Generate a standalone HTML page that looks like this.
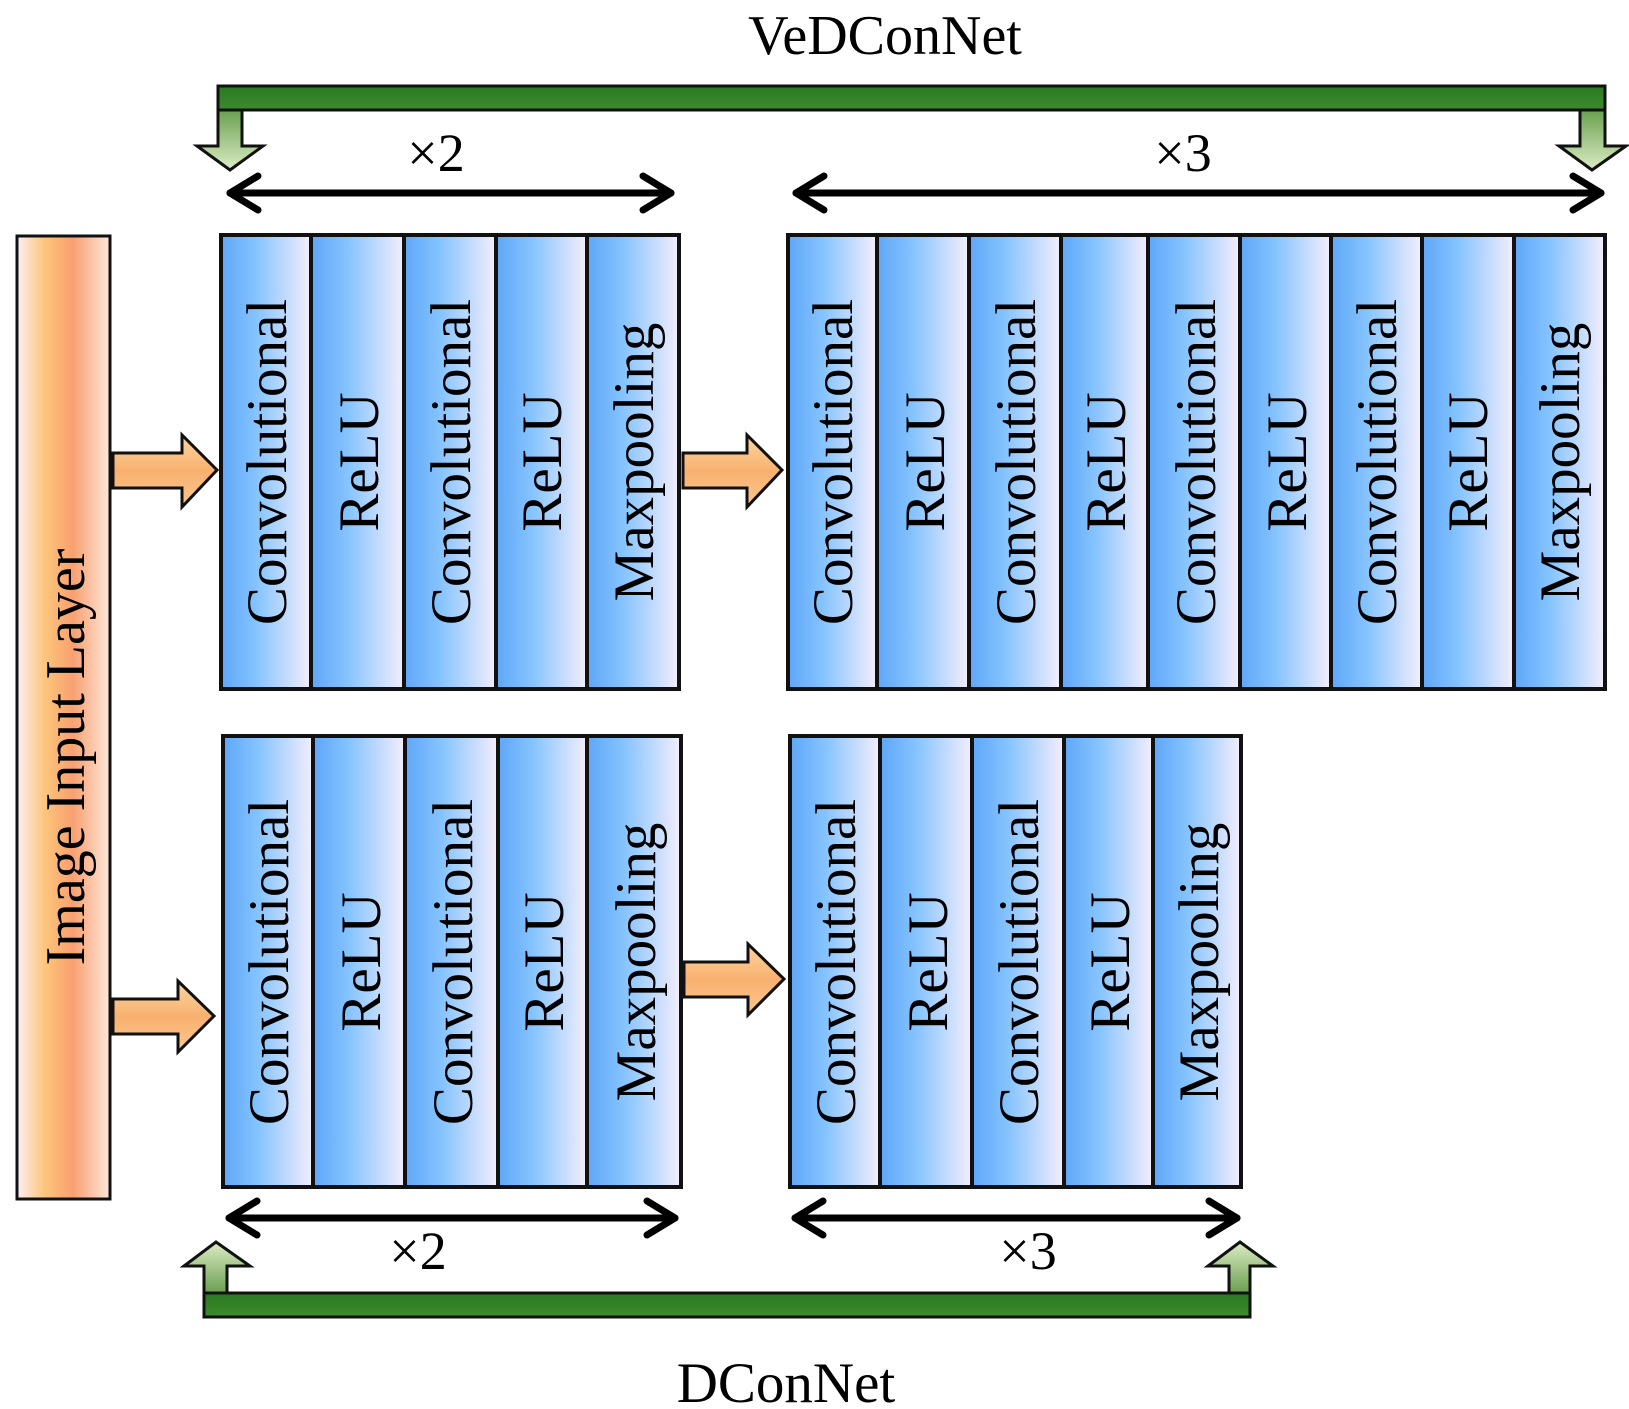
<!DOCTYPE html>
<html><head><meta charset="utf-8"><style>
html,body{margin:0;padding:0;background:#fff;}
svg{display:block;}
text{font-family:"Liberation Serif",serif;fill:#000;}
</style></head><body>
<svg width="1629" height="1409" viewBox="0 0 1629 1409" xmlns="http://www.w3.org/2000/svg">
<defs>
<linearGradient id="blue" x1="0" x2="1" y1="0" y2="0">
<stop offset="0" stop-color="#5ea6f8"/><stop offset="0.4" stop-color="#86c4ff"/><stop offset="1" stop-color="#f4eefc"/></linearGradient>
<linearGradient id="orange" x1="0" x2="1" y1="0" y2="0">
<stop offset="0" stop-color="#fdeef5"/><stop offset="0.3" stop-color="#fcc57a"/><stop offset="0.6" stop-color="#f8a070"/><stop offset="1" stop-color="#fde8dc"/></linearGradient>
<linearGradient id="oarrow" x1="0" x2="0" y1="0" y2="1">
<stop offset="0" stop-color="#fdd7a0"/><stop offset="0.5" stop-color="#f8b070"/><stop offset="1" stop-color="#fbc88c"/></linearGradient>
<linearGradient id="green" x1="0" x2="0" y1="0" y2="1">
<stop offset="0" stop-color="#2a7a22"/><stop offset="1" stop-color="#3e8a2e"/></linearGradient>
<linearGradient id="gdown" x1="0" x2="0" y1="0" y2="1">
<stop offset="0" stop-color="#6aa050"/><stop offset="1" stop-color="#dcecc4"/></linearGradient>
<linearGradient id="gup" x1="0" x2="0" y1="1" y2="0">
<stop offset="0" stop-color="#6aa050"/><stop offset="1" stop-color="#dcecc4"/></linearGradient>
</defs>

<text x="885" y="54" font-size="56" text-anchor="middle">VeDConNet</text>
<text x="786" y="1402" font-size="57" text-anchor="middle">DConNet</text>

<path d="M242,110 L242,146 L263,146 L230,170 L197,146 L218,146 L218,110 Z" fill="url(#gdown)" stroke="#111" stroke-width="3"/>
<path d="M1605,110 L1605,146 L1626,146 L1592,170 L1559,146 L1580,146 L1580,110 Z" fill="url(#gdown)" stroke="#111" stroke-width="3"/>
<rect x="218" y="86" width="1387" height="24" fill="url(#green)" stroke="#111" stroke-width="3"/>

<path d="M227,1293 L227,1266 L250,1266 L216,1242 L184,1266 L204,1266 L204,1293 Z" fill="url(#gup)" stroke="#111" stroke-width="3"/>
<path d="M1250,1293 L1250,1266 L1273,1266 L1240,1242 L1208,1266 L1229,1266 L1229,1293 Z" fill="url(#gup)" stroke="#111" stroke-width="3"/>
<rect x="204" y="1293" width="1046" height="24" fill="url(#green)" stroke="#111" stroke-width="3"/>

<g stroke="#000" stroke-width="7" fill="none" stroke-linecap="round" stroke-linejoin="round">
<line x1="230" y1="193" x2="671" y2="193"/><polyline points="258,176 230,193 258,210"/><polyline points="643,176 671,193 643,210"/>
<line x1="796" y1="193" x2="1601" y2="193"/><polyline points="824,176 796,193 824,210"/><polyline points="1573,176 1601,193 1573,210"/>
<line x1="229" y1="1218" x2="675" y2="1218"/><polyline points="257,1201 229,1218 257,1235"/><polyline points="647,1201 675,1218 647,1235"/>
<line x1="795" y1="1218" x2="1237" y2="1218"/><polyline points="823,1201 795,1218 823,1235"/><polyline points="1209,1201 1237,1218 1209,1235"/>
</g>
<text x="436" y="171" font-size="54" text-anchor="middle">×2</text>
<text x="1183" y="171" font-size="54" text-anchor="middle">×3</text>
<text x="418" y="1269" font-size="54" text-anchor="middle">×2</text>
<text x="1028" y="1269" font-size="54" text-anchor="middle">×3</text>

<rect x="17" y="236" width="93" height="963" fill="url(#orange)" stroke="#111" stroke-width="3"/>
<text transform="translate(84,757) rotate(-90)" font-size="56" text-anchor="middle">Image Input Layer</text>

<g fill="url(#oarrow)" stroke="#111" stroke-width="3" stroke-linejoin="miter">
<path d="M113,453 L182,453 L182,435 L217,470 L182,507 L182,488 L113,488 Z"/>
<path d="M683,453 L747,453 L747,435 L782,470 L747,507 L747,488 L683,488 Z"/>
<path d="M113,999 L178,999 L178,981 L214,1016 L178,1052 L178,1034 L113,1034 Z"/>
<path d="M684,962 L748,962 L748,944 L784,979 L748,1015 L748,997 L684,997 Z"/>
</g>

<g stroke="#111" stroke-width="4">
<rect x="221" y="235" width="90" height="454" fill="url(#blue)"/>
<rect x="311" y="235" width="93" height="454" fill="url(#blue)"/>
<rect x="404" y="235" width="92" height="454" fill="url(#blue)"/>
<rect x="496" y="235" width="91" height="454" fill="url(#blue)"/>
<rect x="587" y="235" width="92" height="454" fill="url(#blue)"/>
</g>
<g font-size="57" text-anchor="middle">
<text transform="translate(286,462) rotate(-90)">Convolutional</text>
<text transform="translate(378,462) rotate(-90)">ReLU</text>
<text transform="translate(470,462) rotate(-90)">Convolutional</text>
<text transform="translate(561,462) rotate(-90)">ReLU</text>
<text transform="translate(653,462) rotate(-90)">Maxpooling</text>
</g>

<g stroke="#111" stroke-width="4">
<rect x="788" y="235" width="89" height="454" fill="url(#blue)"/>
<rect x="877" y="235" width="92" height="454" fill="url(#blue)"/>
<rect x="969" y="235" width="92" height="454" fill="url(#blue)"/>
<rect x="1061" y="235" width="87" height="454" fill="url(#blue)"/>
<rect x="1148" y="235" width="92" height="454" fill="url(#blue)"/>
<rect x="1240" y="235" width="91" height="454" fill="url(#blue)"/>
<rect x="1331" y="235" width="91" height="454" fill="url(#blue)"/>
<rect x="1422" y="235" width="92" height="454" fill="url(#blue)"/>
<rect x="1514" y="235" width="91" height="454" fill="url(#blue)"/>
</g>
<g font-size="57" text-anchor="middle">
<text transform="translate(852,462) rotate(-90)">Convolutional</text>
<text transform="translate(944,462) rotate(-90)">ReLU</text>
<text transform="translate(1035,462) rotate(-90)">Convolutional</text>
<text transform="translate(1125,462) rotate(-90)">ReLU</text>
<text transform="translate(1215,462) rotate(-90)">Convolutional</text>
<text transform="translate(1306,462) rotate(-90)">ReLU</text>
<text transform="translate(1396,462) rotate(-90)">Convolutional</text>
<text transform="translate(1487,462) rotate(-90)">ReLU</text>
<text transform="translate(1579,462) rotate(-90)">Maxpooling</text>
</g>

<g stroke="#111" stroke-width="4">
<rect x="223" y="736" width="90" height="451" fill="url(#blue)"/>
<rect x="313" y="736" width="92" height="451" fill="url(#blue)"/>
<rect x="405" y="736" width="93" height="451" fill="url(#blue)"/>
<rect x="498" y="736" width="89" height="451" fill="url(#blue)"/>
<rect x="587" y="736" width="94" height="451" fill="url(#blue)"/>
</g>
<g font-size="57" text-anchor="middle">
<text transform="translate(288,962) rotate(-90)">Convolutional</text>
<text transform="translate(380,962) rotate(-90)">ReLU</text>
<text transform="translate(472,962) rotate(-90)">Convolutional</text>
<text transform="translate(563,962) rotate(-90)">ReLU</text>
<text transform="translate(655,962) rotate(-90)">Maxpooling</text>
</g>

<g stroke="#111" stroke-width="4">
<rect x="790" y="736" width="90" height="451" fill="url(#blue)"/>
<rect x="880" y="736" width="92" height="451" fill="url(#blue)"/>
<rect x="972" y="736" width="92" height="451" fill="url(#blue)"/>
<rect x="1064" y="736" width="89" height="451" fill="url(#blue)"/>
<rect x="1153" y="736" width="88" height="451" fill="url(#blue)"/>
</g>
<g font-size="57" text-anchor="middle">
<text transform="translate(855,962) rotate(-90)">Convolutional</text>
<text transform="translate(947,962) rotate(-90)">ReLU</text>
<text transform="translate(1038,962) rotate(-90)">Convolutional</text>
<text transform="translate(1129,962) rotate(-90)">ReLU</text>
<text transform="translate(1218,962) rotate(-90)">Maxpooling</text>
</g>
</svg>
</body></html>
